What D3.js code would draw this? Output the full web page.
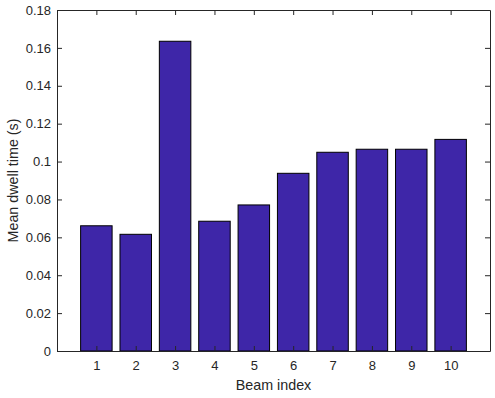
<!DOCTYPE html>
<html>
<head>
<meta charset="utf-8">
<script src="https://cdn.jsdelivr.net/npm/d3@7"></script>
<style>
  body { margin: 0; background: #fff; }
  svg text { font-family: 'Liberation Sans', Arial, sans-serif; fill: #262626; }
</style>
</head>
<body>
<svg id="chart"></svg>
<script>
const beams = [1, 2, 3, 4, 5, 6, 7, 8, 9, 10]
const dwell = [0.0661, 0.0616, 0.1635, 0.0685, 0.0771, 0.0938, 0.1049, 0.1065, 0.1065, 0.1117]
const yTicks = [0, 0.02, 0.04, 0.06, 0.08, 0.1, 0.12, 0.14, 0.16, 0.18]

const width = 495
const height = 398
const margin = { top: 10, right: 5, bottom: 47, left: 57 }
const axisColor = '#262626'

const svg = d3.select('#chart')
  .attr('width', width)
  .attr('height', height)

const x = d3.scaleLinear()
  .domain([0, 11])
  .range([margin.left, width - margin.right])

const y = d3.scaleLinear()
  .domain([0, 0.18])
  .range([height - margin.bottom, margin.top])

const barW = x(0.8) - x(0)

svg.append('g')
  .selectAll('rect').data(beams).enter().append('rect')
  .attr('x', (d, i) => x(d) - barW / 2)
  .attr('y', (d, i) => y(dwell[i]))
  .attr('width', barW)
  .attr('height', (d, i) => y(0) - y(dwell[i]))
  .attr('fill', '#3e26a8')
  .attr('stroke', '#000')
  .attr('stroke-width', 1)

const fmt = d => d === 0 ? '0' : String(+d.toFixed(2))

// bottom axis
const xAxis = svg.append('g')
  .attr('transform', `translate(0,${y(0)})`)
  .call(d3.axisBottom(x).tickValues(beams).tickSizeInner(-5).tickSizeOuter(0).tickPadding(10))
xAxis.selectAll('text').attr('font-size', 13)

// top axis
svg.append('g')
  .attr('transform', `translate(0,${y(0.18)})`)
  .call(d3.axisTop(x).tickValues(beams).tickSizeInner(-5).tickSizeOuter(0).tickFormat(''))

// left axis
const yAxis = svg.append('g')
  .attr('transform', `translate(${x(0)},0)`)
  .call(d3.axisLeft(y).tickValues(yTicks).tickFormat(fmt).tickSizeInner(-5).tickSizeOuter(0).tickPadding(6))
yAxis.selectAll('text').attr('font-size', 13)

// right axis
svg.append('g')
  .attr('transform', `translate(${x(11)},0)`)
  .call(d3.axisRight(y).tickValues(yTicks).tickSizeInner(-5).tickSizeOuter(0).tickFormat(''))

svg.selectAll('.domain, .tick line').attr('stroke', axisColor)
svg.selectAll('.tick text').attr('fill', axisColor)

svg.append('text')
  .attr('x', (x(0) + x(11)) / 2)
  .attr('y', 390)
  .attr('text-anchor', 'middle')
  .attr('font-size', 14.3)
  .text('Beam index')

svg.append('text')
  .attr('transform', `translate(17.5,${(y(0) + y(0.18)) / 2}) rotate(-90)`)
  .attr('text-anchor', 'middle')
  .attr('font-size', 14.3)
  .text('Mean dwell time (s)')
</script>
</body>
</html>
